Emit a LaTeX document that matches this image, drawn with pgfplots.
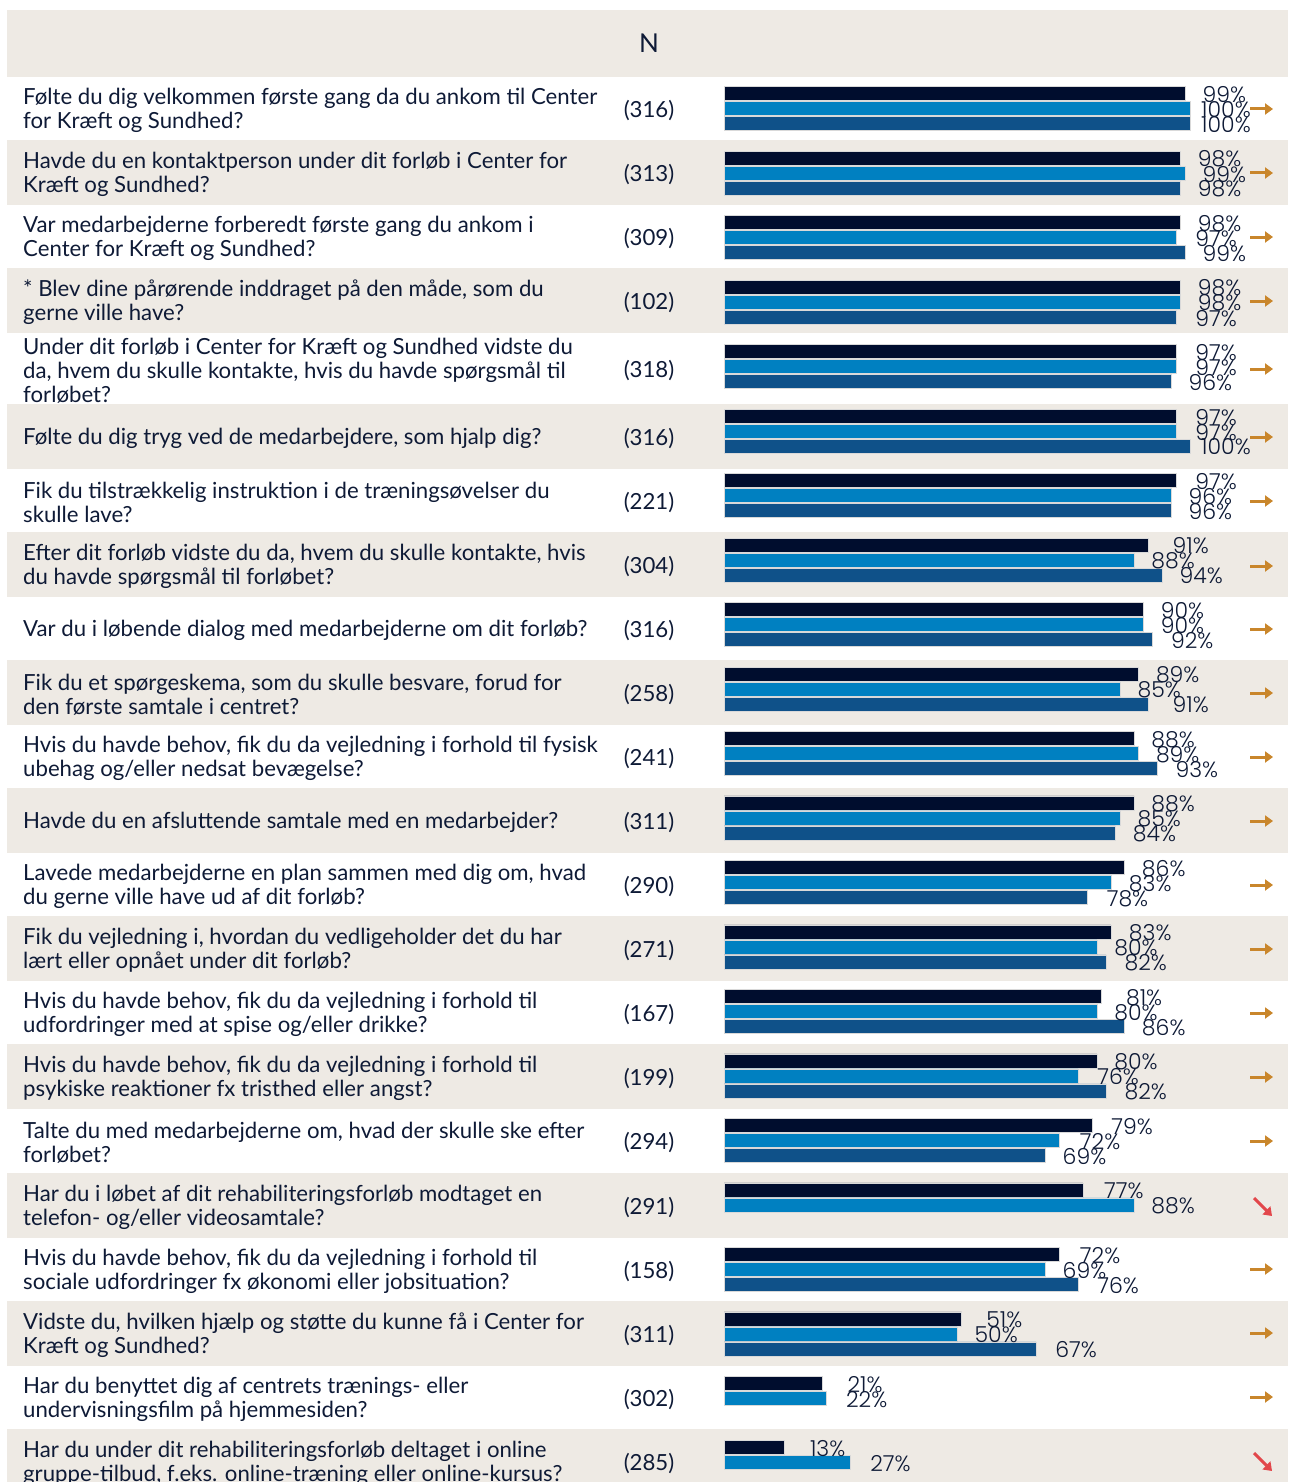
\documentclass[border=0pt]{standalone}
\usepackage{pgfplots}
\pgfplotsset{compat=1.18}
\usepackage{pgfplotstable}
\usepackage{fontspec}
\setmainfont{Lato}
\IfFontExistsTF{Poppins Light}{\newfontfamily\pctfont{Poppins Light}}{\newfontfamily\pctfont{Poppins}}
\usetikzlibrary{arrows.meta}
\definecolor{cA}{RGB}{0,13,46}
\definecolor{cB}{RGB}{0,128,193}
\definecolor{cC}{RGB}{15,81,137}
\definecolor{bgc}{RGB}{238,234,228}
\definecolor{txt}{RGB}{14,26,54}
\definecolor{orng}{RGB}{201,134,43}
\definecolor{rd}{RGB}{226,71,75}

\pgfplotstableread{
row a b c
1 99 100 100
2 98 99 98
3 98 97 99
4 98 98 97
5 97 97 96
6 97 97 100
7 97 96 96
8 91 88 94
9 90 90 92
10 89 85 91
11 88 89 93
12 88 85 84
13 86 83 78
14 83 80 82
15 81 80 86
16 80 76 82
17 79 72 69
18 77 88 nan
19 72 69 76
20 51 50 67
21 21 22 nan
22 13 27 nan
}\data

\newcommand{\Q}[2]{\node[anchor=west,align=left,inner sep=0pt,yshift=-2pt,text=txt,font=\fontsize{22.2}{24}\selectfont] at (axis cs:-150.43,#1) {#2};}
\newcommand{\N}[2]{\node[anchor=center,inner sep=0pt,yshift=-2pt,text=txt,font=\fontsize{22.2}{24}\selectfont] at (axis cs:-16.09,#1) {(#2)};}
\newcommand{\OA}[1]{\draw[orng,line width=3pt,-{Triangle[length=8pt,width=11pt]}] (axis cs:112.88,#1) -- (axis cs:117.81,#1);}
\newcommand{\RA}[1]{\draw[rd,line width=3pt,-{Triangle[length=8pt,width=11pt]}] (axis cs:113.73,#1-9) -- (axis cs:117.6,#1+9);}
\newcommand{\BG}[2]{\fill[bgc] (axis cs:-153.86,#1) rectangle (axis cs:121.03,#2);}

\begin{document}
\begin{tikzpicture}
\begin{axis}[
  width=1288pt, height=1482pt, scale only axis,
  xmin=-155.365, xmax=121.030, ymin=0, ymax=1482, y dir=reverse,
  hide axis, clip=false,
  /pgf/number format/assume math mode=true,
  every node near coord/.append style={anchor=east, xshift=61pt, yshift=-1pt, text=txt, font=\pctfont\fontsize{22}{22}\selectfont, inner sep=0pt},
]
\coordinate (BBa) at (rel axis cs:0,0);
\coordinate (BBb) at (rel axis cs:1,1);
\BG{10}{77}
\BG{140}{205}
\BG{268}{333}
\BG{404}{469}
\BG{532}{597}
\BG{660}{725}
\BG{788}{853}
\BG{916}{981}
\BG{1044}{1109}
\BG{1173}{1238}
\BG{1301}{1366}
\BG{1429}{1482}

\addplot[xbar, bar width=14, bar shift=0pt, fill=cA, draw=black!15, line width=0.6pt,
  point meta=x, nodes near coords={\pgfmathprintnumber[fixed,precision=0]{\pgfplotspointmeta}\%}]
  table[x=a, y expr={108.7+64.48*(\thisrow{row}-1)-15}] {\data};
\addplot[xbar, bar width=14, bar shift=0pt, fill=cB, draw=black!15, line width=0.6pt,
  point meta=x, nodes near coords={\pgfmathprintnumber[fixed,precision=0]{\pgfplotspointmeta}\%}]
  table[x=b, y expr={108.7+64.48*(\thisrow{row}-1)}] {\data};
\addplot[xbar, bar width=14, bar shift=0pt, fill=cC, draw=black!15, line width=0.6pt,
  point meta=x, unbounded coords=discard, nodes near coords={\pgfmathprintnumber[fixed,precision=0]{\pgfplotspointmeta}\%}]
  table[x=c, y expr={108.7+64.48*(\thisrow{row}-1)+15}] {\data};

\node[text=txt,font=\fontsize{26}{26}\selectfont,inner sep=0pt] at (axis cs:-16.09,43) {N};

\Q{108.5}{Følte du dig velkommen første gang da du ankom til Center\\for Kræft og Sundhed?}
\Q{172.5}{Havde du en kontaktperson under dit forløb i Center for\\Kræft og Sundhed?}
\Q{236.5}{Var medarbejderne forberedt første gang du ankom i\\Center for Kræft og Sundhed?}
\Q{300.5}{* Blev dine pårørende inddraget på den måde, som du\\gerne ville have?}
\Q{368.5}{Under dit forløb i Center for Kræft og Sundhed vidste du\\da, hvem du skulle kontakte, hvis du havde spørgsmål til\\forløbet?}
\Q{436.5}{Følte du dig tryg ved de medarbejdere, som hjalp dig?}
\Q{500.5}{Fik du tilstrækkelig instruktion i de træningsøvelser du\\skulle lave?}
\Q{564.5}{Efter dit forløb vidste du da, hvem du skulle kontakte, hvis\\du havde spørgsmål til forløbet?}
\Q{628.5}{Var du i løbende dialog med medarbejderne om dit forløb?}
\Q{692.5}{Fik du et spørgeskema, som du skulle besvare, forud for\\den første samtale i centret?}
\Q{756.5}{Hvis du havde behov, fik du da vejledning i forhold til fysisk\\ubehag og/eller nedsat bevægelse?}
\Q{820.5}{Havde du en afsluttende samtale med en medarbejder?}
\Q{884.5}{Lavede medarbejderne en plan sammen med dig om, hvad\\du gerne ville have ud af dit forløb?}
\Q{948.5}{Fik du vejledning i, hvordan du vedligeholder det du har\\lært eller opnået under dit forløb?}
\Q{1012.5}{Hvis du havde behov, fik du da vejledning i forhold til\\udfordringer med at spise og/eller drikke?}
\Q{1076.5}{Hvis du havde behov, fik du da vejledning i forhold til\\psykiske reaktioner fx tristhed eller angst?}
\Q{1141}{Talte du med medarbejderne om, hvad der skulle ske efter\\forløbet?}
\Q{1205.5}{Har du i løbet af dit rehabiliteringsforløb modtaget en\\telefon- og/eller videosamtale?}
\Q{1269.5}{Hvis du havde behov, fik du da vejledning i forhold til\\sociale udfordringer fx økonomi eller jobsituation?}
\Q{1333.5}{Vidste du, hvilken hjælp og støtte du kunne få i Center for\\Kræft og Sundhed?}
\Q{1397.5}{Har du benyttet dig af centrets trænings- eller\\undervisningsfilm på hjemmesiden?}
\Q{1461.5}{Har du under dit rehabiliteringsforløb deltaget i online\\gruppe-tilbud, f.eks. online-træning eller online-kursus?}

\N{108.5}{316}
\N{172.5}{313}
\N{236.5}{309}
\N{300.5}{102}
\N{368.5}{318}
\N{436.5}{316}
\N{500.5}{221}
\N{564.5}{304}
\N{628.5}{316}
\N{692.5}{258}
\N{756.5}{241}
\N{820.5}{311}
\N{884.5}{290}
\N{948.5}{271}
\N{1012.5}{167}
\N{1076.5}{199}
\N{1141}{294}
\N{1205.5}{291}
\N{1269.5}{158}
\N{1333.5}{311}
\N{1397.5}{302}
\N{1461.5}{285}

\OA{109}
\OA{173}
\OA{237}
\OA{301}
\OA{369}
\OA{437}
\OA{501}
\OA{566}
\OA{629}
\OA{693}
\OA{757}
\OA{821}
\OA{885}
\OA{949}
\OA{1013}
\OA{1077}
\OA{1141}
\RA{1207}
\OA{1269}
\OA{1333}
\OA{1397}
\RA{1462}
\end{axis}
\pgfresetboundingbox
\path[use as bounding box] (BBa) rectangle (BBb);
\end{tikzpicture}
\end{document}
